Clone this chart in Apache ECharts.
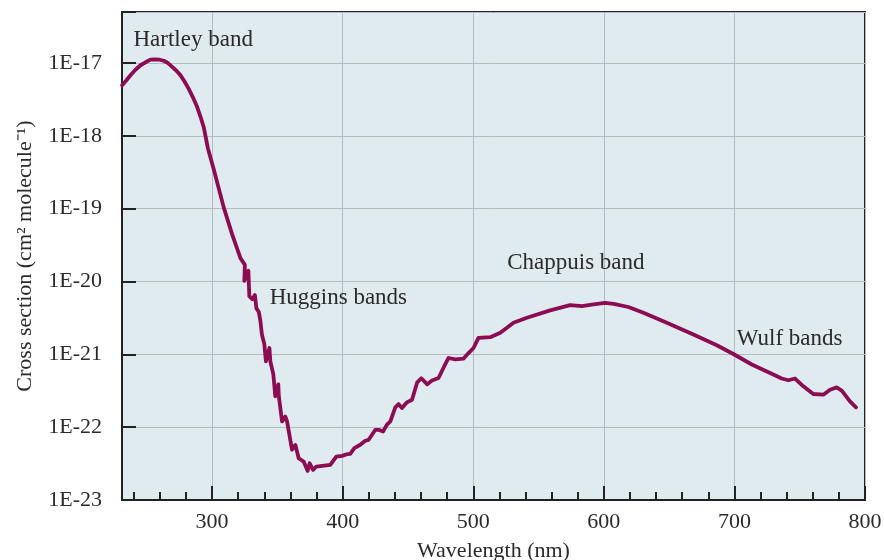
<!DOCTYPE html>
<html>
<head>
<meta charset="utf-8">
<script src="https://cdn.jsdelivr.net/npm/echarts@6/dist/echarts.min.js"></script>
<style>
  html, body { margin: 0; padding: 0; background: #fff; }
  #chart { width: 884px; height: 560px; }
</style>
</head>
<body>
<div id="chart"></div>
<script>
// wavelength (nm)
var wavelength = [
  231.1, 234.4, 237.5, 241.3, 245.2, 249.0, 252.8, 256.6, 259.8, 263.0, 265.8, 269.4, 272.7, 275.7, 278.8, 282.1,
  285.3, 288.5, 291.0, 293.6, 296.8, 301.2, 308.9, 315.3, 321.7,
  323.6, 325.1, 324.7, 327.8, 328.5, 330.8, 332.8, 333.9, 335.8, 337.0, 338.1, 340.0, 341.2, 343.9, 344.6, 346.9,
  348.4, 350.7, 351.1, 353.6, 356.1, 357.4, 361.2, 363.8, 366.3, 370.1, 373.2, 374.7, 377.3, 379.8, 390.5, 395.1,
  399.5, 403.3, 405.8, 408.9, 413.5, 417.3, 419.9, 425.0, 427.5, 430.9, 433.9, 436.5, 440.3, 442.8, 445.4, 449.2,
  453.1, 457.1, 460.2, 464.8, 468.4, 473.4, 477.8, 481.1, 486.2, 492.6, 496.4, 500.2, 504.0, 513.0, 520.7, 525.8,
  530.8, 541.1, 558.9, 574.2, 583.2, 592.1, 601.0, 607.4, 618.8, 630.3, 648.2, 668.6, 686.5, 699.2, 713.3, 727.3,
  736.2, 741.3, 746.4, 752.8, 760.4, 768.1, 773.2, 778.3, 782.2, 788.5, 793.1
];

// cross section (cm2 molecule-1)
var crossSection = [
  4.93e-18, 5.78e-18, 6.78e-18, 8.06e-18, 9.29e-18, 1.02e-17, 1.11e-17, 1.12e-17, 1.106e-17, 1.07e-17, 1.007e-17, 8.8e-18, 7.81e-18, 6.8e-18, 5.6e-18, 4.4e-18,
  3.37e-18, 2.5e-18, 1.85e-18, 1.31e-18, 6.7e-19, 3.5e-19, 1.04e-19, 4.47e-20, 2.09e-20,
  1.86e-20, 1.69e-20, 1.02e-20, 1.40e-20, 6.3e-21, 5.7e-21, 6.5e-21, 4.3e-21, 3.8e-21, 2.86e-21, 1.89e-21, 1.38e-21, 8.0e-22, 1.22e-21, 8.0e-22, 5.3e-22,
  2.65e-22, 3.87e-22, 2.65e-22, 1.20e-22, 1.40e-22, 1.20e-22, 4.9e-23, 5.7e-23, 3.74e-23, 3.37e-23, 2.51e-23, 3.19e-23, 2.59e-23, 2.88e-23, 3.03e-23, 3.95e-23,
  4.04e-23, 4.25e-23, 4.31e-23, 5.14e-23, 5.73e-23, 6.5e-23, 6.7e-23, 9.2e-23, 9.2e-23, 8.7e-23, 1.08e-22, 1.20e-22, 1.87e-22, 2.07e-22, 1.83e-22, 2.19e-22,
  2.38e-22, 4.13e-22, 4.69e-22, 3.87e-22, 4.36e-22, 4.73e-22, 6.86e-22, 8.9e-22, 8.5e-22, 8.75e-22, 1.04e-21, 1.22e-21, 1.68e-21, 1.72e-21, 1.97e-21, 2.31e-21,
  2.71e-21, 3.17e-21, 4.01e-21, 4.74e-21, 4.60e-21, 4.85e-21, 5.10e-21, 4.94e-21, 4.46e-21, 3.72e-21, 2.71e-21, 1.87e-21, 1.33e-21, 1.01e-21, 7.24e-22, 5.55e-22,
  4.65e-22, 4.40e-22, 4.65e-22, 3.64e-22, 2.85e-22, 2.79e-22, 3.27e-22, 3.52e-22, 3.17e-22, 2.26e-22, 1.87e-22
];

var xMajorTicks = [300, 400, 500, 600, 700, 800];
var xMinorTicks = [240, 260, 280, 320, 340, 360, 380, 420, 440, 460, 480, 520, 540, 560, 580,
  620, 640, 660, 680, 720, 740, 760, 780];

// band labels and where they sit (wavelength, cross section)
var bandNames = ['Hartley band', 'Huggins bands', 'Chappuis band', 'Wulf bands'];
var bandWavelength = [239.8, 344.1, 526.0, 701.8];
var bandCross = [2.09e-17, 5.98e-21, 1.80e-20, 1.64e-21];

// echarts rounds very small numbers away on a log axis, so plot in units of 1E-23
var UNIT_EXP = -23;
var unit = Math.pow(10, UNIT_EXP);

var font = 'Liberation Serif';
var inkColor = '#2a2a2a';

var chart = echarts.init(document.getElementById('chart'), null, { renderer: 'canvas' });

var lineData = wavelength.map(function (w, i) { return [w, crossSection[i] / unit]; });

var marks = bandNames.map(function (n, i) {
  return { name: n, coord: [bandWavelength[i], bandCross[i] / unit] };
});

chart.setOption({
  animation: false,
  backgroundColor: '#ffffff',
  grid: {
    left: 122,
    right: 19,
    top: 12,
    bottom: 60,
    outerBoundsMode: 'none',
    containLabel: false,
    show: true,
    backgroundColor: '#e0ebf0',
    borderColor: '#222222',
    borderWidth: 2
  },
  xAxis: [
    {
      type: 'value',
      min: 231,
      max: 800,
      position: 'bottom',
      name: 'Wavelength (nm)',
      nameLocation: 'middle',
      nameGap: 40,
      nameTextStyle: { fontFamily: font, fontSize: 22, color: inkColor },
      axisLine: { show: true, lineStyle: { color: '#222222', width: 2 } },
      axisTick: { show: true, inside: true, length: 14, customValues: xMajorTicks,
        lineStyle: { color: '#222222', width: 2 } },
      axisLabel: { customValues: xMajorTicks, margin: 11, fontFamily: font, fontSize: 22, color: inkColor },
      splitLine: { show: true, lineStyle: { color: '#b6bbbe', width: 1 } }
    },
    {
      type: 'value',
      min: 231,
      max: 800,
      position: 'bottom',
      axisLine: { show: false },
      axisTick: { show: true, inside: true, length: 8, customValues: xMinorTicks,
        lineStyle: { color: '#222222', width: 2 } },
      axisLabel: { show: false },
      splitLine: { show: false }
    }
  ],
  yAxis: {
    type: 'log',
    logBase: 10,
    min: 1,
    max: 5e6,
    name: 'Cross section (cm\u00b2 molecule\u207b\u00b9)',
    nameLocation: 'middle',
    nameGap: 86,
    nameTextStyle: { fontFamily: font, fontSize: 22, color: inkColor },
    axisLine: { show: true, lineStyle: { color: '#222222', width: 2 } },
    axisTick: { show: true, inside: true, length: 14, lineStyle: { color: '#222222', width: 2 } },
    axisLabel: {
      margin: 20,
      fontFamily: font,
      fontSize: 22,
      color: inkColor,
      formatter: function (v) {
        var e = Math.log10(v);
        var r = Math.round(e);
        if (Math.abs(e - r) > 0.01) return '';
        return '1E' + (r + UNIT_EXP);
      }
    },
    splitLine: { show: true, lineStyle: { color: '#b6bbbe', width: 1 } }
  },
  series: [
    {
      type: 'line',
      data: lineData,
      showSymbol: false,
      smooth: false,
      lineStyle: { color: '#8b0c52', width: 3.8, cap: 'round', join: 'round' },
      markPoint: {
        symbol: 'circle',
        symbolSize: 0,
        silent: true,
        label: {
          show: true,
          position: 'right',
          distance: 0,
          formatter: '{b}',
          fontFamily: font,
          fontSize: 23,
          color: inkColor
        },
        data: marks
      }
    }
  ]
});
</script>
</body>
</html>
